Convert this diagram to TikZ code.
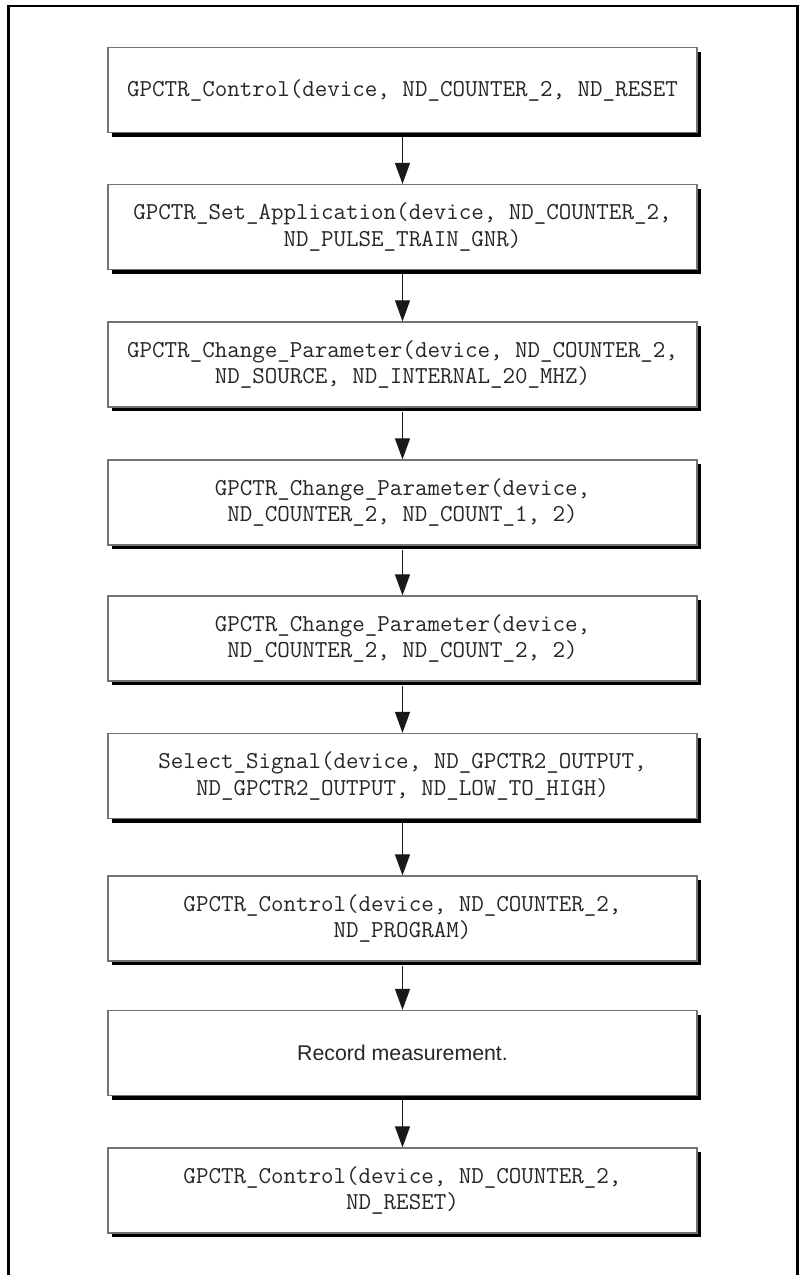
\documentclass[tikz,border=0pt]{standalone}
\usepackage{fontspec}
\setsansfont{Liberation Sans}
\usetikzlibrary{arrows.meta,shadows}
\tikzset{
  flowbox/.style={draw=black!55, line width=1.2pt, fill=white,
    minimum width=589pt, minimum height=85pt, inner sep=0pt, align=center,
    font=\fontsize{24.3}{26.5}\selectfont\ttfamily, text=black!85,
    drop shadow={shadow xshift=4pt, shadow yshift=-4pt, fill=black, opacity=1}},
  sansbox/.style={flowbox, font=\fontsize{21.3}{26}\selectfont\sffamily},
  flow/.style={-{Triangle[length=21pt,width=15pt]}, line width=1pt, black!90},
  frameline/.style={line width=2.5pt, black}
}
\begin{document}
\begin{tikzpicture}[x=1pt,y=-1pt]
\useasboundingbox (0,0) rectangle (800,1275);
\draw[frameline] (8.5,1276) -- (8.5,6) -- (797.5,6) -- (797.5,1276);

\node[flowbox] (b1) at (402.5,90) {GPCTR\_Control(device, ND\_COUNTER\_2, ND\_RESET};
\node[flowbox] (b2) at (402.5,227) {GPCTR\_Set\_Application(device, ND\_COUNTER\_2,\\ND\_PULSE\_TRAIN\_GNR)};
\node[flowbox] (b3) at (402.5,364.5) {GPCTR\_Change\_Parameter(device, ND\_COUNTER\_2,\\ND\_SOURCE, ND\_INTERNAL\_20\_MHZ)};
\node[flowbox] (b4) at (402.5,502.5) {GPCTR\_Change\_Parameter(device,\\ND\_COUNTER\_2, ND\_COUNT\_1, 2)};
\node[flowbox] (b5) at (402.5,638.5) {GPCTR\_Change\_Parameter(device,\\ND\_COUNTER\_2, ND\_COUNT\_2, 2)};
\node[flowbox] (b6) at (402.5,776) {Select\_Signal(device, ND\_GPCTR2\_OUTPUT,\\ND\_GPCTR2\_OUTPUT, ND\_LOW\_TO\_HIGH)};
\node[flowbox] (b7) at (402.5,918.5) {GPCTR\_Control(device, ND\_COUNTER\_2,\\ND\_PROGRAM)};
\node[sansbox] (b8) at (402.5,1053) {Record measurement.};
\node[flowbox] (b9) at (402.5,1190.5) {GPCTR\_Control(device, ND\_COUNTER\_2,\\ND\_RESET)};

\foreach \a/\b in {b1/b2,b2/b3,b3/b4,b4/b5,b5/b6,b6/b7,b7/b8,b8/b9}
  \draw[flow] ([yshift=-4pt]\a.south) -- (\b.north);
\end{tikzpicture}
\end{document}
